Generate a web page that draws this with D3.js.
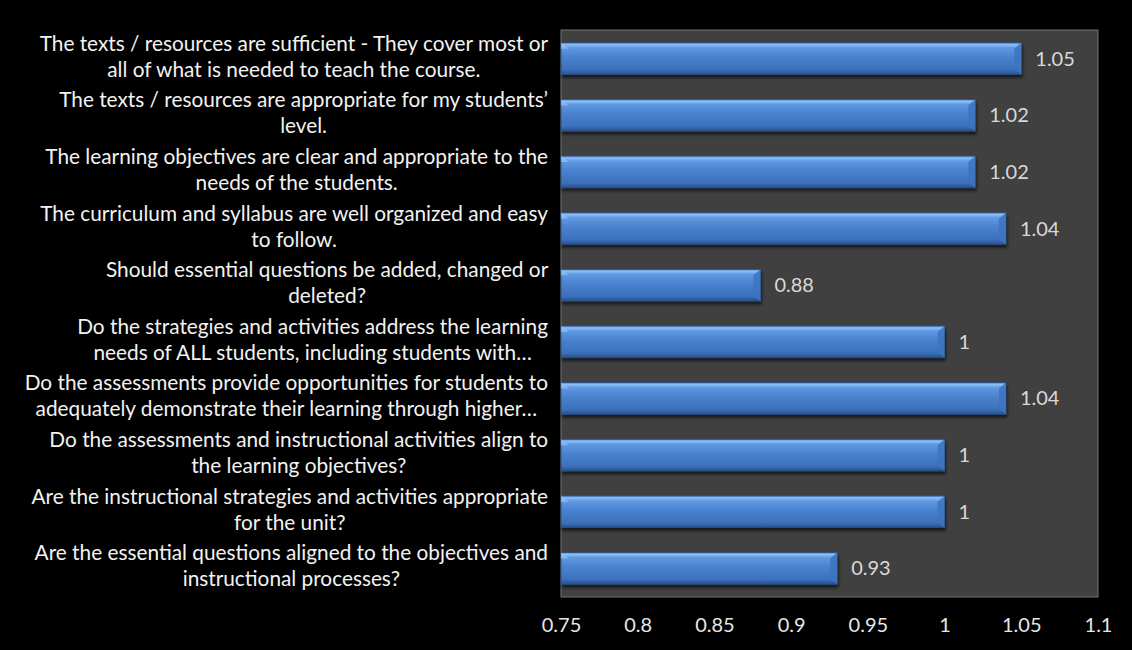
<!DOCTYPE html>
<html>
<head>
<meta charset="utf-8">
<script src="https://cdn.jsdelivr.net/npm/d3@7"></script>
<style>
  body { margin: 0; background: #000; }
  svg { display: block; font-family: Lato, "Open Sans", sans-serif; }
</style>
</head>
<body>
<div id="chart"></div>
<script>
// Survey statements, top to bottom (lines split the way the chart wraps them)
const categories = [
  "The texts / resources are sufficient - They cover most or\nall of what is needed to teach the course.",
  "The texts / resources are appropriate for my students’\nlevel.",
  "The learning objectives are clear and appropriate to the\nneeds of the students.",
  "The curriculum and syllabus are well organized and easy\nto follow.",
  "Should essential questions be added, changed or\ndeleted?",
  "Do the strategies and activities address the learning\nneeds of ALL students, including students with…",
  "Do the assessments provide opportunities for students to\nadequately demonstrate their learning through higher…",
  "Do the assessments and instructional activities align to\nthe learning objectives?",
  "Are the instructional strategies and activities appropriate\nfor the unit?",
  "Are the essential questions aligned to the objectives and\ninstructional processes?"
];
const values = [1.05, 1.02, 1.02, 1.04, 0.88, 1, 1.04, 1, 1, 0.93];
const xTicks = [0.75, 0.8, 0.85, 0.9, 0.95, 1, 1.05, 1.1];

const width = 1132, height = 650;
const margin = { top: 30, right: 34, bottom: 53, left: 561 };

const svg = d3.select("#chart")
  .append("svg")
  .attr("width", width)
  .attr("height", height);

svg.append("rect")
  .attr("width", width)
  .attr("height", height)
  .attr("fill", "#000");

// bar gradient, to get the bevelled look
const defs = svg.append("defs");
const grad = defs.append("linearGradient")
  .attr("id", "barGrad")
  .attr("x1", 0).attr("y1", 0).attr("x2", 0).attr("y2", 1);
[["0%", "#4f86d2"], ["6%", "#8ec0f7"], ["16%", "#5f99e1"], ["45%", "#4a82cf"], ["85%", "#3c70ba"], ["100%", "#27508c"]]
  .forEach(s => grad.append("stop").attr("offset", s[0]).attr("stop-color", s[1]));

defs.append("filter")
  .attr("id", "shadow")
  .attr("x", "-5%").attr("y", "-20%").attr("width", "110%").attr("height", "160%")
  .append("feDropShadow")
  .attr("dx", 1).attr("dy", 3).attr("stdDeviation", 1.5)
  .attr("flood-color", "#000").attr("flood-opacity", 0.6);

const x = d3.scaleLinear()
  .domain([0.75, 1.1])
  .range([margin.left, width - margin.right]);

const y = d3.scaleBand()
  .domain(categories)
  .range([margin.top, height - margin.bottom])
  .paddingInner(0.44)
  .paddingOuter(0.225);

// plot area
svg.append("rect")
  .attr("x", x.range()[0])
  .attr("y", margin.top)
  .attr("width", x.range()[1] - x.range()[0])
  .attr("height", height - margin.bottom - margin.top)
  .attr("fill", "#404040")
  .attr("stroke", "#737373")
  .attr("stroke-width", 1);

// bars
const bars = svg.append("g").attr("class", "bars");
bars.selectAll("rect")
  .data(values)
  .enter()
  .append("rect")
  .attr("x", x(0.75))
  .attr("y", (d, i) => y(categories[i]))
  .attr("width", d => x(d) - x(0.75))
  .attr("height", y.bandwidth())
  .attr("fill", "url(#barGrad)")
  .attr("stroke", "#2a4f85")
  .attr("stroke-width", 0.8)
  .attr("filter", "url(#shadow)");

// small bevels on both ends of each bar
bars.selectAll("path.bevel-r")
  .data(values)
  .enter()
  .append("path")
  .attr("class", "bevel-r")
  .attr("d", (d, i) => {
    const x1 = x(d), y0 = y(categories[i]), h = y.bandwidth();
    return `M${x1 - 7},${y0 + 6} L${x1},${y0} L${x1},${y0 + h} L${x1 - 7},${y0 + h - 5} Z`;
  })
  .attr("fill", "#3d73bf")
  .attr("opacity", 0.85);

bars.selectAll("path.bevel-l")
  .data(values)
  .enter()
  .append("path")
  .attr("class", "bevel-l")
  .attr("d", (d, i) => {
    const x0 = x(0.75), y0 = y(categories[i]);
    return `M${x0},${y0} L${x0 + 8},${y0 + 6} L${x0},${y0 + 6} Z`;
  })
  .attr("fill", "#8ec0f7")
  .attr("opacity", 0.7);

// value labels
svg.append("g").selectAll("text")
  .data(values)
  .enter()
  .append("text")
  .attr("x", d => x(d) + 14)
  .attr("y", (d, i) => y(categories[i]) + y.bandwidth() / 2)
  .attr("dy", "0.35em")
  .attr("fill", "#d9d9d9")
  .attr("font-size", 20)
  .text(d => d);

// x axis
const xAxis = d3.axisBottom(x).tickValues(xTicks).tickSize(0).tickPadding(21).tickFormat(d => d);
const gx = svg.append("g")
  .attr("transform", `translate(0, ${height - margin.bottom})`)
  .call(xAxis);
gx.select(".domain").remove();
gx.selectAll("text").attr("fill", "#e6e6e6").attr("font-size", 20).attr("font-family", "Lato, sans-serif");

// category labels, wrapped lines centred inside a box that ends at the axis
const labelRight = 548;
const labels = svg.append("g").attr("class", "labels");
categories.forEach(c => {
  const lines = c.split("\n");
  const t = labels.append("text")
    .attr("fill", "#f2f2f2")
    .attr("font-size", 20.8)
    .attr("text-anchor", "middle");
  lines.forEach(l => {
    t.append("tspan").text(l);
  });
  let maxW = 0;
  t.selectAll("tspan").each(function () {
    maxW = Math.max(maxW, this.getComputedTextLength());
  });
  const cx = labelRight - maxW / 2;
  const cy = y(c) + y.bandwidth() / 2;
  const lh = 26;
  t.selectAll("tspan")
    .attr("x", cx)
    .attr("y", (d, i) => cy + (i - (lines.length - 1) / 2) * lh + 5);
});
</script>
</body>
</html>
